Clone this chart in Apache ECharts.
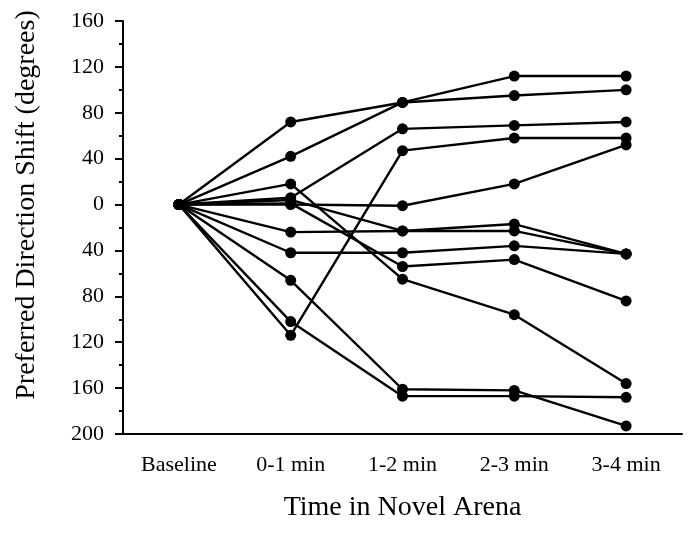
<!DOCTYPE html>
<html>
<head>
<meta charset="utf-8">
<script src="https://cdn.jsdelivr.net/npm/echarts@6/dist/echarts.min.js"></script>
<style>
  html, body { margin: 0; padding: 0; background: #fff; }
  #chart { width: 689px; height: 533px; }
</style>
</head>
<body>
<div id="chart"></div>
<script>
// time bins along the x axis
var categories = ['Baseline', '0-1 min', '1-2 min', '2-3 min', '3-4 min'];

// preferred direction shift per cell (degrees)
var cell01 = [0, 72, 89, 95, 100];
var cell02 = [0, 42, 89, 112, 112];
var cell03 = [0, 6, 66, 69, 72];
var cell04 = [0, 0, -1, 18, 52];
var cell05 = [0, 4, -23, -17, -43];
var cell06 = [0, 1, -54, -48, -84];
var cell07 = [0, 18, -65, -96, -156];
var cell08 = [0, -24, -23, -23, -43];
var cell09 = [0, -42, -42, -36, -43];
var cell10 = [0, -66, -161, -162, -193];
var cell11 = [0, -102, -167, -167, -168];
var cell12 = [0, -114, 47, 58, 58];

var cells = [cell01, cell02, cell03, cell04, cell05, cell06,
             cell07, cell08, cell09, cell10, cell11, cell12];

var serif = '"Liberation Serif", "Times New Roman", serif';

var series = cells.map(function (d, i) {
  return {
    name: 'cell ' + (i + 1),
    type: 'line',
    data: d,
    symbol: 'circle',
    symbolSize: 11,
    showSymbol: true,
    lineStyle: { color: '#000', width: 2.4 },
    itemStyle: { color: '#000' },
    emphasis: { disabled: true },
    animation: false
  };
});

var chart = echarts.init(document.getElementById('chart'));
chart.setOption({
  backgroundColor: '#fff',
  animation: false,
  grid: { left: 123, right: 7, top: 21, bottom: 99, containLabel: false },
  xAxis: {
    type: 'category',
    data: categories,
    boundaryGap: true,
    name: 'Time in Novel Arena',
    nameLocation: 'middle',
    nameGap: 60,
    nameTextStyle: { fontFamily: serif, fontSize: 28, color: '#000' },
    axisLine: { onZero: false, lineStyle: { color: '#000', width: 2 } },
    axisTick: { alignWithLabel: true, length: 11, lineStyle: { color: '#000', width: 2 } },
    axisLabel: { fontFamily: serif, fontSize: 22, color: '#000', margin: 20 },
    splitLine: { show: false }
  },
  yAxis: {
    type: 'value',
    min: -200,
    max: 160,
    interval: 40,
    axisLine: { show: true, lineStyle: { color: '#000', width: 2 } },
    axisTick: { show: true, length: 8, lineStyle: { color: '#000', width: 2 } },
    minorTick: { show: true, splitNumber: 2, length: 4, lineStyle: { color: '#000', width: 2 } },
    axisLabel: {
      fontFamily: serif, fontSize: 22, color: '#000', margin: 19,
      formatter: function (v) { return String(Math.abs(v)); }
    },
    splitLine: { show: false }
  },
  graphic: [{
    type: 'text',
    x: 27,
    y: 205,
    rotation: Math.PI / 2,
    style: {
      text: 'Preferred Direction Shift (degrees)',
      fontFamily: serif,
      fontSize: 28,
      fill: '#000',
      align: 'center',
      verticalAlign: 'middle'
    }
  }],
  series: series
});
</script>
</body>
</html>
